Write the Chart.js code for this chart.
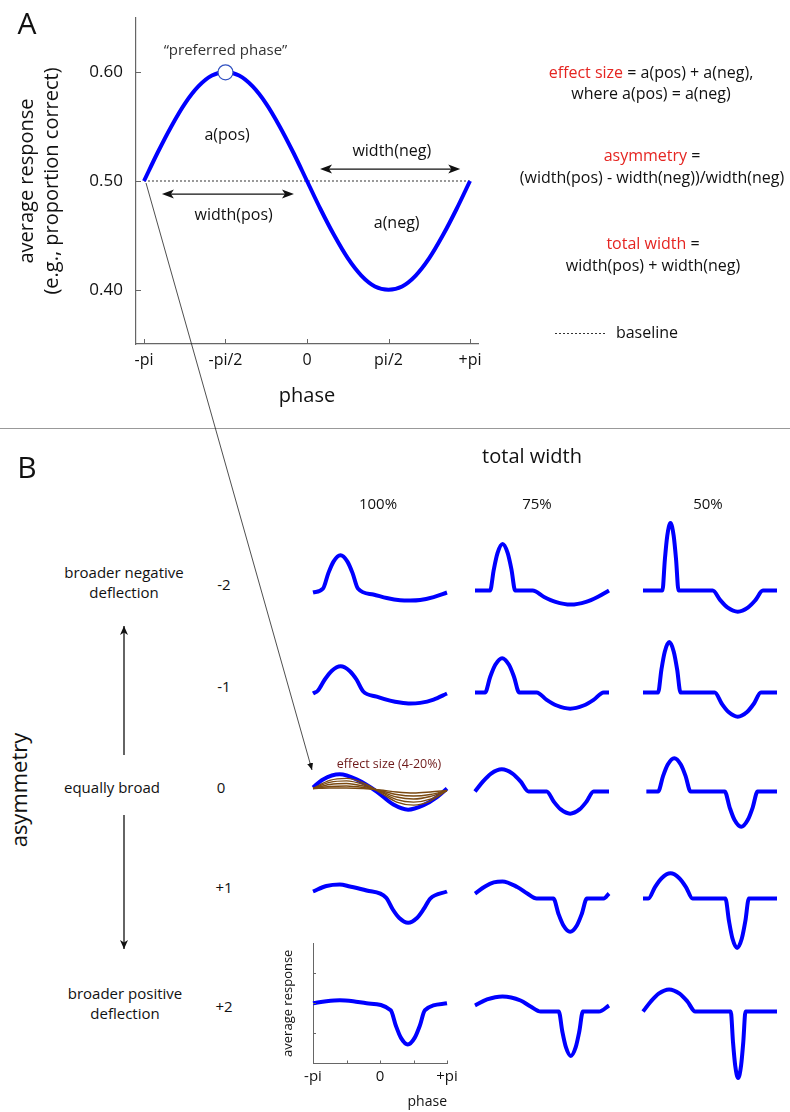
<!DOCTYPE html>
<html>
<head>
<meta charset="utf-8">
<script src="https://cdn.jsdelivr.net/npm/chart.js@4.4.1/dist/chart.umd.min.js"></script>
<style>
  body { margin: 0; background: #fff; }
  #page { position: relative; width: 790px; height: 1112px; overflow: hidden; font-family: 'Open Sans', sans-serif; color: #111; }
  .t { position: absolute; white-space: nowrap; transform: translate(-50%, -50%); line-height: 1.2; text-align: center; }
  .red { color: #e52521; }
  canvas { position: absolute; }
  svg { position: absolute; left: 0; top: 0; }
</style>
</head>
<body>
<div id="page"></div>
<script>
// ---- panel A: the idealised response curve (phase in units of pi) ----
const phaseA = [-1, -0.9167, -0.8333, -0.75, -0.6667, -0.5833, -0.5, -0.4167, -0.3333, -0.25, -0.1667, -0.0833, 0,
                0.0833, 0.1667, 0.25, 0.3333, 0.4167, 0.5, 0.5833, 0.6667, 0.75, 0.8333, 0.9167, 1];
const respA = [0.500, 0.526, 0.550, 0.571, 0.587, 0.597, 0.600, 0.597, 0.587, 0.571, 0.550, 0.526, 0.500,
               0.474, 0.450, 0.429, 0.413, 0.403, 0.400, 0.403, 0.413, 0.429, 0.450, 0.474, 0.500];
const baselineA = 0.5;
const preferredPhase = -0.5, preferredResp = 0.6;
const xTicksA = [-1, -0.5, 0, 0.5, 1];
const xTickLabelsA = ['-pi', '-pi/2', '0', 'pi/2', '+pi'];
const yTicksA = [0.4, 0.5, 0.6];
const yTickLabelsA = ['0.40', '0.50', '0.60'];

// ---- panel B: curves as [phase (pi units), response (arbitrary units, 0 = baseline)] ----
const totalWidths = ['100%', '75%', '50%'];
const asymLevels = ['-2', '-1', '0', '+1', '+2'];

const w100_m2 = [[-1,-0.2],[-0.85,0.2],[-0.772,1.7],[-0.694,2.87],[-0.59,3.5],[-0.486,2.87],[-0.408,1.7],[-0.33,0.2],
                 [-0.1,-0.4],[0.1,-0.75],[0.3,-0.97],[0.45,-1.0],[0.6,-0.95],[0.8,-0.65],[1,-0.2]];
const w75_m2  = [[-1,0],[-0.775,0],[-0.719,2.09],[-0.663,3.72],[-0.588,4.6],[-0.513,3.72],[-0.456,2.09],[-0.4,0],
                 [-0.14,0],[0.031,-0.64],[0.202,-1.13],[0.43,-1.4],[0.658,-1.13],[0.829,-0.64],[1,0]];
const w50_m2  = [[-1,0],[-0.71,0],[-0.674,3.04],[-0.638,5.42],[-0.59,6.7],[-0.542,5.42],[-0.506,3.04],[-0.47,0],
                 [0.04,0],[0.153,-0.95],[0.265,-1.7],[0.415,-2.1],[0.565,-1.7],[0.678,-0.95],[0.79,0],[1,0]];

const w100_m1 = [[-1,-0.1],[-0.925,0.2],[-0.824,1.29],[-0.722,2.14],[-0.588,2.6],[-0.453,2.14],[-0.351,1.29],[-0.25,0.1],
                 [-0.05,-0.4],[0.15,-0.8],[0.3,-1.0],[0.45,-1.1],[0.6,-1.03],[0.8,-0.7],[1,-0.1]];
const w75_m1  = [[-1,0],[-0.85,0],[-0.774,1.54],[-0.697,2.75],[-0.595,3.4],[-0.493,2.75],[-0.417,1.54],[-0.34,0],
                 [-0.08,0],[0.07,-0.73],[0.22,-1.29],[0.42,-1.6],[0.62,-1.29],[0.77,-0.73],[0.92,0],[1,0]];
const w50_m1  = [[-1,0],[-0.775,0],[-0.725,2.27],[-0.675,4.05],[-0.608,5.0],[-0.541,4.05],[-0.49,2.27],[-0.44,0],
                 [0.07,0],[0.174,-1.09],[0.277,-1.94],[0.415,-2.4],[0.553,-1.94],[0.657,-1.09],[0.76,0],[1,0]];

const w100_0  = [[-1,0.4],[-0.85,1.2],[-0.6,1.7],[-0.35,1.2],[-0.05,0],[0.2,-1.3],[0.42,-1.8],[0.65,-1.35],[0.85,-0.55],[1,0.3]];
const w75_0   = [[-1,0],[-0.88,1.0],[-0.76,1.78],[-0.6,2.2],[-0.44,1.78],[-0.32,1.0],[-0.2,0],
                 [0.07,0],[0.175,-1.0],[0.28,-1.78],[0.42,-2.2],[0.56,-1.78],[0.665,-1.0],[0.77,0],[1,0]];
const w50_0   = [[-0.95,0],[-0.775,0],[-0.702,1.5],[-0.63,2.67],[-0.533,3.3],[-0.436,2.67],[-0.363,1.5],[-0.29,0],
                 [0.22,0],[0.294,-1.59],[0.367,-2.83],[0.465,-3.5],[0.563,-2.83],[0.637,-1.59],[0.71,0],[1,0]];

// smaller effect sizes (brown), same shape as w100_0
const eff1 = [[-1,0.3],[-0.75,1.1],[-0.5,1.3],[-0.25,0.85],[0,-0.1],[0.25,-1.05],[0.5,-1.35],[0.75,-0.95],[1,0.1]];
const eff2 = [[-1,0.3],[-0.75,0.9],[-0.5,1.05],[-0.25,0.7],[0,0],[0.25,-0.8],[0.5,-1.05],[0.75,-0.75],[1,0.1]];
const eff3 = [[-1,0.3],[-0.75,0.7],[-0.5,0.8],[-0.25,0.55],[0,0.05],[0.25,-0.55],[0.5,-0.75],[0.75,-0.5],[1,0.1]];
const eff4 = [[-1,0.3],[-0.75,0.5],[-0.5,0.55],[-0.25,0.4],[0,0.1],[0.25,-0.3],[0.5,-0.45],[0.75,-0.3],[1,0.1]];
const eff5 = [[-1,0.3],[-0.75,0.35],[-0.5,0.35],[-0.25,0.3],[0,0.15],[0.25,-0.05],[0.5,-0.15],[0.75,-0.05],[1,0.1]];

const w100_p1 = [[-1,0],[-0.8,0.55],[-0.6,0.7],[-0.45,0.5],[-0.2,0.1],[0.09,-0.6],
                 [0.189,-1.76],[0.288,-2.63],[0.42,-3.1],[0.552,-2.63],[0.651,-1.76],[0.75,-0.7],[1,0]];
const w75_p1  = [[-1,-0.2],[-0.85,0.5],[-0.72,0.9],[-0.59,1.0],[-0.37,0.45],[-0.22,-0.2],[-0.08,-0.7],
                 [0.17,-0.7],[0.245,-2.2],[0.32,-3.37],[0.42,-4.0],[0.52,-3.37],[0.595,-2.2],[0.67,-0.7],[0.92,-0.7],[1,-0.2]];
const w50_p1  = [[-1,-0.7],[-0.92,-0.7],[-0.821,0.44],[-0.722,1.32],[-0.59,1.8],[-0.458,1.32],[-0.359,0.44],[-0.26,-0.7],
                 [0.23,-0.7],[0.283,-2.92],[0.335,-4.66],[0.405,-5.6],[0.475,-4.66],[0.528,-2.92],[0.58,-0.7],[1,-0.7]];

const w100_p2 = [[-1,0],[-0.8,0.2],[-0.6,0.3],[-0.4,0.2],[-0.2,0],[0.16,-0.7],
                 [0.237,-2.24],[0.313,-3.45],[0.415,-4.1],[0.517,-3.45],[0.594,-2.24],[0.67,-0.7],[1,0]];
const w75_p2  = [[-1,-0.2],[-0.82,0.4],[-0.59,0.7],[-0.32,0.3],[-0.17,-0.3],[-0.02,-0.8],
                 [0.25,-0.8],[0.304,-2.8],[0.358,-4.36],[0.43,-5.2],[0.502,-4.36],[0.556,-2.8],[0.61,-0.8],[0.85,-0.8],[1,-0.2]];
const w50_p2  = [[-1,-0.8],[-0.883,0.2],[-0.766,0.98],[-0.61,1.4],[-0.454,0.98],[-0.337,0.2],[-0.22,-0.8],
                 [0.31,-0.8],[0.343,-3.8],[0.376,-6.14],[0.42,-7.4],[0.464,-6.14],[0.497,-3.8],[0.53,-0.8],[1,-0.8]];

const gridCurves = [
  [w100_m2, w75_m2, w50_m2],
  [w100_m1, w75_m1, w50_m1],
  [w100_0,  w75_0,  w50_0],
  [w100_p1, w75_p1, w50_p1],
  [w100_p2, w75_p2, w50_p2]
];
const effectCurves = [eff1, eff2, eff3, eff4, eff5];
const xTicksB = [-1, -0.5, 0, 0.5, 1];
const xTickLabelsB = ['-pi', '', '0', '', '+pi'];
const yTicksB = [-3, 0, 3];

// ---- layout ----
const page = document.getElementById('page');
const FONT = "'Open Sans', sans-serif";
const BLUE = '#0000ff';
const AXIS = '#666';

function addCanvas(left, top, w, h) {
  const c = document.createElement('canvas');
  c.width = w; c.height = h;
  c.style.left = left + 'px'; c.style.top = top + 'px';
  c.style.width = w + 'px'; c.style.height = h + 'px';
  page.appendChild(c);
  return c;
}
function addText(html, x, y, size, extra) {
  const d = document.createElement('div');
  d.className = 't';
  d.innerHTML = html;
  d.style.left = x + 'px'; d.style.top = y + 'px';
  d.style.fontSize = size + 'px';
  if (extra) Object.assign(d.style, extra);
  page.appendChild(d);
  return d;
}
const pts = arr => arr.map(([x, y]) => ({ x, y }));

// ticks drawn inward from the axes
const inTicks = {
  id: 'inTicks',
  afterDraw(chart, args, opts) {
    if (!opts.len) return;
    const { ctx, chartArea, scales } = chart;
    ctx.save();
    ctx.strokeStyle = opts.color || AXIS;
    ctx.lineWidth = 1;
    ctx.beginPath();
    scales.x.ticks.forEach(t => {
      const px = Math.round(scales.x.getPixelForValue(t.value)) + 0.5;
      ctx.moveTo(px, chartArea.bottom); ctx.lineTo(px, chartArea.bottom - opts.len);
    });
    scales.y.ticks.forEach(t => {
      const py = Math.round(scales.y.getPixelForValue(t.value)) + 0.5;
      ctx.moveTo(chartArea.left, py); ctx.lineTo(chartArea.left + opts.len, py);
    });
    ctx.stroke();
    ctx.restore();
  }
};

// panel A arrows and labels, placed in data coordinates
const notesA = {
  id: 'notesA',
  afterDraw(chart) {
    const { ctx, scales: { x, y } } = chart;
    const X = v => x.getPixelForValue(v), Y = v => y.getPixelForValue(v);
    ctx.save();
    ctx.fillStyle = '#111'; ctx.strokeStyle = '#111';
    const dblArrow = (x1, x2, yv) => {
      const a = X(x1), b = X(x2), py = Y(yv);
      ctx.lineWidth = 1.3;
      ctx.beginPath(); ctx.moveTo(a + 8, py); ctx.lineTo(b - 8, py); ctx.stroke();
      ctx.beginPath(); ctx.moveTo(a, py); ctx.lineTo(a + 12, py - 4.5); ctx.lineTo(a + 9, py); ctx.lineTo(a + 12, py + 4.5); ctx.closePath(); ctx.fill();
      ctx.beginPath(); ctx.moveTo(b, py); ctx.lineTo(b - 12, py - 4.5); ctx.lineTo(b - 9, py); ctx.lineTo(b - 12, py + 4.5); ctx.closePath(); ctx.fill();
    };
    dblArrow(-0.89, -0.08, 0.488);
    dblArrow(0.08, 0.94, 0.511);
    ctx.font = '16px ' + FONT;
    ctx.textAlign = 'center'; ctx.textBaseline = 'middle';
    ctx.fillText('a(pos)', X(-0.49), Y(0.542));
    ctx.fillText('width(pos)', X(-0.45), Y(0.468));
    ctx.fillText('width(neg)', X(0.52), Y(0.527));
    ctx.fillText('a(neg)', X(0.55), Y(0.461));
    ctx.fillStyle = '#333';
    ctx.font = '15px ' + FONT;
    ctx.fillText('\u201Cpreferred phase\u201D', X(-0.5), Y(0.62));
    ctx.restore();
  }
};

// ---- panel A chart ----
const cA = addCanvas(0, 0, 790, 420);
new Chart(cA, {
  type: 'scatter',
  data: {
    datasets: [
      { data: [{ x: preferredPhase, y: preferredResp }], pointRadius: 7.5, pointBackgroundColor: '#fff',
        pointBorderColor: '#3050c0', pointBorderWidth: 1.2, showLine: false },
      { data: phaseA.map((p, i) => ({ x: p, y: respA[i] })), showLine: true, borderColor: BLUE, borderWidth: 4,
        pointRadius: 0, cubicInterpolationMode: 'monotone' },
      { data: [{ x: -1, y: baselineA }, { x: 1, y: baselineA }], showLine: true, borderColor: '#333',
        borderWidth: 1, borderDash: [2, 2], pointRadius: 0 }
    ]
  },
  options: {
    responsive: false, animation: false,
    layout: { padding: { left: 14.5, top: 18, right: 312, bottom: 11.5 } },
    plugins: { legend: { display: false }, tooltip: { enabled: false }, inTicks: { len: 5, color: AXIS } },
    scales: {
      x: {
        type: 'linear', min: -1.049, max: 1.049,
        afterBuildTicks: s => { s.ticks = xTicksA.map(v => ({ value: v })); },
        afterFit: s => { s.height = 64.5; s.paddingLeft = 0; s.paddingRight = 0; },
        grid: { display: false, drawTicks: false },
        border: { display: true, color: AXIS, width: 1.2 },
        ticks: { padding: 7, color: '#111', font: { family: FONT, size: 16 }, autoSkip: false, maxRotation: 0,
                 callback: (v, i) => xTickLabelsA[i] },
        title: { display: true, text: 'phase', color: '#111', font: { family: FONT, size: 20 }, padding: 0 }
      },
      y: {
        min: 0.35, max: 0.65,
        afterBuildTicks: s => { s.ticks = yTicksA.map(v => ({ value: v })); },
        afterFit: s => { s.width = 136 - 14.5; s.paddingTop = 0; s.paddingBottom = 0; },
        grid: { display: false, drawTicks: false },
        border: { display: true, color: AXIS, width: 1.2 },
        ticks: { padding: 13, color: '#111', font: { family: FONT, size: 17 }, callback: (v, i) => yTickLabelsA[i] },
        title: { display: true, text: ['average response', '(e.g., proportion correct)'], color: '#111',
                 font: { family: FONT, size: 20, lineHeight: 1.25 }, padding: 0 }
      }
    }
  },
  plugins: [inTicks, notesA]
});

// ---- panel B grid of small charts ----
const colLeft = [313, 475, 643];      // pixel of phase -pi in each column
const rowCenter = [590, 692, 791, 891, 1003]; // pixel of baseline in each row
const CW = 134, CH = 121, PAD = 25;

function smallChart(r, c) {
  const withAxes = (r === 4 && c === 0);
  const datasets = [{ data: pts(gridCurves[r][c]), showLine: true, borderColor: BLUE, borderWidth: 4,
                      pointRadius: 0, cubicInterpolationMode: 'monotone', clip: false }];
  if (r === 2 && c === 0) {
    effectCurves.forEach(e => datasets.push({ data: pts(e), showLine: true, borderColor: '#7b4a12', borderWidth: 1.4,
                                              pointRadius: 0, cubicInterpolationMode: 'monotone', clip: false }));
  }
  const top = rowCenter[r] - CH / 2;
  let canvas, padding, xScale, yScale;
  if (!withAxes) {
    canvas = addCanvas(colLeft[c] - PAD, top - PAD, CW + 2 * PAD, CH + 2 * PAD);
    padding = PAD;
    xScale = { type: 'linear', min: -1, max: 1, display: false };
    yScale = { min: -6, max: 6, display: false };
  } else {
    const cl = 270, ct = top - PAD, cw = colLeft[c] + CW + PAD - cl, ch = 1112 - ct;
    canvas = addCanvas(cl, ct, cw, ch);
    padding = { left: 10, top: PAD, right: PAD, bottom: 2 };
    xScale = {
      type: 'linear', min: -1, max: 1,
      afterBuildTicks: s => { s.ticks = xTicksB.map(v => ({ value: v })); },
      afterFit: s => { s.height = ch - 2 - PAD - CH; },
      grid: { display: false, drawTicks: false },
      border: { display: true, color: AXIS, width: 1 },
      ticks: { padding: 4, color: '#111', font: { family: FONT, size: 15 }, autoSkip: false, maxRotation: 0,
               callback: (v, i) => xTickLabelsB[i] },
      title: { display: true, text: 'phase', align: 'end', color: '#111', font: { family: FONT, size: 14 }, padding: 0 }
    };
    yScale = {
      min: -6, max: 6,
      afterBuildTicks: s => { s.ticks = yTicksB.map(v => ({ value: v })); },
      afterFit: s => { s.width = colLeft[c] - cl - 10; },
      grid: { display: false, drawTicks: false },
      border: { display: true, color: AXIS, width: 1 },
      ticks: { display: false },
      title: { display: true, text: 'average response', color: '#111', font: { family: FONT, size: 13 }, padding: 0 }
    };
  }
  new Chart(canvas, {
    type: 'scatter',
    data: { datasets: datasets.reverse() },
    options: {
      responsive: false, animation: false,
      layout: { padding },
      plugins: { legend: { display: false }, tooltip: { enabled: false }, inTicks: { len: withAxes ? 3 : 0, color: AXIS } },
      scales: { x: xScale, y: yScale }
    },
    plugins: [inTicks]
  });
}
for (let r = 0; r < gridCurves.length; r++)
  for (let c = 0; c < 3; c++) smallChart(r, c);

// ---- texts ----
addText('A', 27, 23, 30);
addText('B', 27, 467, 30);
addText('<span class="red">effect size</span> = a(pos) + a(neg),<br>where a(pos) = a(neg)', 651, 83, 16, { lineHeight: '21px' });
addText('<span class="red">asymmetry</span> =<br>(width(pos) - width(neg))/width(neg)', 652, 166, 16, { lineHeight: '22px' });
addText('<span class="red">total width</span> =<br>width(pos) + width(neg)', 653, 254, 16, { lineHeight: '22px' });
addText('baseline', 647, 333, 16);
addText('total width', 532, 456, 20);
const colHeadX = [378, 537, 708];
totalWidths.forEach((w, i) => addText(w, colHeadX[i], 503, 15));
const rowLabelY = [584, 686, 787, 887, 1006];
asymLevels.forEach((a, i) => addText(a, a === '0' ? 221 : 224, rowLabelY[i], 15));
addText('broader negative<br>deflection', 124, 582, 15, { lineHeight: '20px' });
addText('equally broad', 112, 787, 15);
addText('broader positive<br>deflection', 125, 1003, 15, { lineHeight: '20px' });
addText('asymmetry', 18, 790, 22, { transform: 'translate(-50%, -50%) rotate(-90deg)' });
addText('effect size (4-20%)', 389, 763, 12.5, { color: '#6e1a1a' });

// ---- connector lines and arrows ----
const svgNS = 'http://www.w3.org/2000/svg';
const svg = document.createElementNS(svgNS, 'svg');
svg.setAttribute('width', 790); svg.setAttribute('height', 1112);
svg.innerHTML = `
  <defs>
    <marker id="ah" markerWidth="10" markerHeight="10" refX="9" refY="5" orient="auto" markerUnits="userSpaceOnUse">
      <path d="M0,1 L9,5 L0,9 L2.5,5 z" fill="#111"/>
    </marker>
    <marker id="ahs" markerWidth="8" markerHeight="8" refX="7" refY="4" orient="auto" markerUnits="userSpaceOnUse">
      <path d="M0,1 L7,4 L0,7 z" fill="#111"/>
    </marker>
  </defs>
  <line x1="0" y1="428.5" x2="790" y2="428.5" stroke="#999" stroke-width="1.2"/>
  <line x1="146" y1="183" x2="312" y2="770" stroke="#222" stroke-width="0.8" marker-end="url(#ahs)"/>
  <line x1="124" y1="755" x2="124" y2="626" stroke="#111" stroke-width="1.3" marker-end="url(#ah)"/>
  <line x1="124" y1="815" x2="124" y2="949" stroke="#111" stroke-width="1.3" marker-end="url(#ah)"/>
  <line x1="555" y1="333.5" x2="607" y2="333.5" stroke="#333" stroke-width="1" stroke-dasharray="2,2"/>
`;
page.appendChild(svg);
</script>
</body>
</html>
